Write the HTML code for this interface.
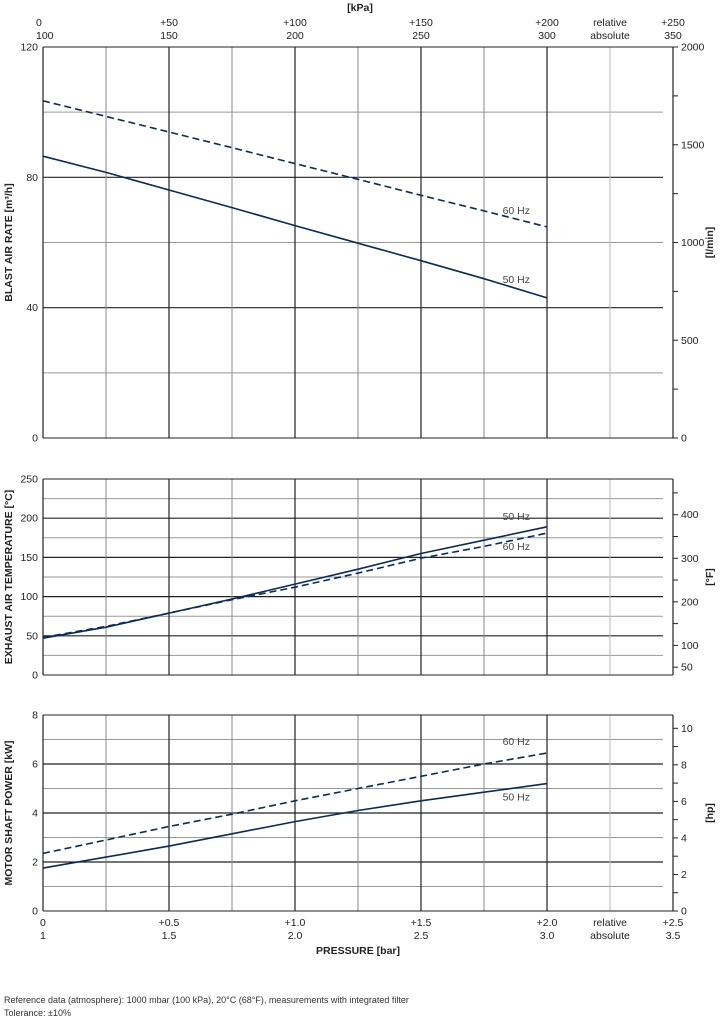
<!DOCTYPE html>
<html><head><meta charset="utf-8"><style>
html,body{margin:0;padding:0;background:#fff}
svg{display:block;font-family:"Liberation Sans",sans-serif}
</style></head><body>
<svg id="c" width="721" height="1025" viewBox="0 0 721 1025" xmlns="http://www.w3.org/2000/svg"></svg>
<script>
const pressures=[0,0.25,0.5,0.75,1.0,1.25,1.5,1.75,2.0];
const air50=[86.5,81.5,76.1,70.7,65.2,59.8,54.4,48.9,43.0];
const air60=[103.5,98.7,93.9,89.1,84.2,79.4,74.5,69.7,64.8];
const temp50=[47,61,79,97,116,135,155,172,189];
const temp60=[48,62,79,96,112,130,149,164,181];
const pow50=[1.75,2.2,2.65,3.15,3.65,4.1,4.5,4.85,5.2];
const pow60=[2.35,2.9,3.45,3.95,4.5,5.0,5.5,6.0,6.45];
const topRel=['0','+50','+100','+150','+200','relative','+250'];
const topAbs=['100','150','200','250','300','absolute','350'];
const botRel=['0','+0.5','+1.0','+1.5','+2.0','relative','+2.5'];
const botAbs=['1','1.5','2.0','2.5','3.0','absolute','3.5'];
const labelPos=[0,0.5,1.0,1.5,2.0,2.25,2.5];
const airTicks=[0,40,80,120];
const lminTicks=[0,500,1000,1500,2000];
const tempTicks=[0,50,100,150,200,250];
const fTicks=[50,100,200,300,400];
const powTicks=[0,2,4,6,8];
const hpTicks=[0,2,4,6,8,10];

const svg=document.getElementById('c');
const NS='http://www.w3.org/2000/svg';
const X0=43,X1=673;
const xs=v=>X0+v*252;
function el(tag,attrs,text){const e=document.createElementNS(NS,tag);for(const k in attrs)e.setAttribute(k,attrs[k]);if(text!==undefined)e.textContent=text;svg.appendChild(e);return e;}
function line(x1,y1,x2,y2,col,w,name){const e=el('line',{x1,y1,x2,y2,stroke:col,'stroke-width':w});return e;}
function txt(x,y,s,opts,name){const e=el('text',Object.assign({x,y,'font-size':10.5,fill:'#222'},opts||{}),s);return e;}

function panel(p){
  const ys=v=>p.y0-(v-p.min)/(p.max-p.min)*(p.y0-p.y1);
  for(let v=p.min+p.minor;v<p.max;v+=p.step){line(X0,ys(v),663,ys(v),'#999',1,p.id+'-minor-gridline');}
  for(const v of p.ticks){if(v>p.min&&v<p.max)line(X0,ys(v),663,ys(v),'#222',1.2,p.id+'-major-gridline');}
  for(let i=1;i<=9;i++){const v=i*0.25;const maj=(i%2==0&&i<=8);const col=i==9?'#bbb':(maj?'#222':'#888');line(xs(v),p.y1,xs(v),p.y0,col,maj?1.2:1,p.id+'-vertical-gridline');}
  line(X0,p.y1,X1,p.y1,'#222',1,p.id+'-top-border');
  line(X0,p.y0,X1,p.y0,'#222',1,p.id+'-bottom-border');
  line(X0,p.y1,X0,p.y0,'#222',1.2,p.id+'-left-axis');
  line(X1,p.y1,X1,p.y0,'#222',1.2,p.id+'-right-axis');
  for(const v of p.ticks){txt(38,ys(v)+3.5,String(v),{'text-anchor':'end'},p.id+'-left-tick-label');}
  for(const t of p.rminor){const y=ys(p.conv(t));line(X1,y,X1+5,y,'#222',1,p.id+'-right-minor-tick');}
  for(const t of p.rticks){const y=ys(p.conv(t));line(X1,y,X1+5,y,'#222',1,p.id+'-right-tick');txt(X1+8,y+3.5,String(t),{},p.id+'-right-tick-label');}
  const cy=(p.y0+p.y1)/2;
  txt(12,cy,p.title,{'text-anchor':'middle','font-weight':'bold',transform:`rotate(-90 12 ${cy})`},p.id+'-y-axis-title');
  txt(713,cy,p.rtitle,{'text-anchor':'middle','font-weight':'bold',transform:`rotate(-90 713 ${cy})`},p.id+'-right-axis-title');
  const mk=(arr,dash,name)=>{const d=arr.map((v,i)=>(i?'L':'M')+xs(pressures[i]).toFixed(1)+','+ys(v).toFixed(1)).join('');const e=el('path',{d,fill:'none',stroke:'#0b2b57','stroke-width':1.6});if(dash)e.setAttribute('stroke-dasharray','7,4');return e;};
  mk(p.s50,false,p.id+'-50hz-line');mk(p.s60,true,p.id+'-60hz-line');
  const n=pressures.length-1;
  txt(530,ys(p.s50[n])+p.l50,'50 Hz',{'text-anchor':'end',fill:'#444'},p.id+'-50hz-label');
  txt(530,ys(p.s60[n])+p.l60,'60 Hz',{'text-anchor':'end',fill:'#444'},p.id+'-60hz-label');
}
const r=(a,b,s)=>{const o=[];for(let v=a;v<=b+1e-9;v+=s)o.push(v);return o;};
panel({id:'blast',y0:438,y1:47,min:0,max:120,ticks:airTicks,step:40,minor:20,s50:air50,s60:air60,
  rticks:lminTicks,rminor:r(250,1750,500),conv:t=>t*0.06,title:'BLAST AIR RATE  [m³/h]',rtitle:'[l/min]',l50:-15,l60:-13});
panel({id:'temp',y0:675,y1:479,min:0,max:250,ticks:tempTicks,step:50,minor:25,s50:temp50,s60:temp60,
  rticks:fTicks,rminor:[150,250,350,450],conv:t=>(t-32)/1.8,title:'EXHAUST AIR TEMPERATURE  [°C]',rtitle:'[°F]',l50:-7,l60:17});
panel({id:'power',y0:911,y1:715,min:0,max:8,ticks:powTicks,step:2,minor:1,s50:pow50,s60:pow60,
  rticks:hpTicks,rminor:[1,3,5,7,9],conv:t=>t*0.7457,title:'MOTOR SHAFT POWER  [kW]',rtitle:'[hp]',l50:17,l60:-8});
for(let i=0;i<labelPos.length;i++){
  const x=xs(labelPos[i]);
  txt(i==0?x-7:x,26,topRel[i],{'text-anchor':i==0?'start':'middle'},'top-relative-label');
  txt(i==0?x-7:x,39,topAbs[i],{'text-anchor':i==0?'start':'middle'},'top-absolute-label');
  txt(i==0?x-3:x,926,botRel[i],{'text-anchor':i==0?'start':'middle'},'bottom-relative-label');
  txt(i==0?x-3:x,939,botAbs[i],{'text-anchor':i==0?'start':'middle'},'bottom-absolute-label');
}
txt(360,11,'[kPa]',{'text-anchor':'middle','font-weight':'bold'},'top-x-axis-title');
txt(358,954,'PRESSURE  [bar]',{'text-anchor':'middle','font-weight':'bold'},'x-axis-title');
txt(4,1003,'Reference data (atmosphere): 1000 mbar (100 kPa), 20°C (68°F), measurements with integrated filter',{'font-size':9,fill:'#333'},'reference-note');
txt(4,1016,'Tolerance: ±10%',{'font-size':9,fill:'#333'},'tolerance-note');
</script>
</body></html>
